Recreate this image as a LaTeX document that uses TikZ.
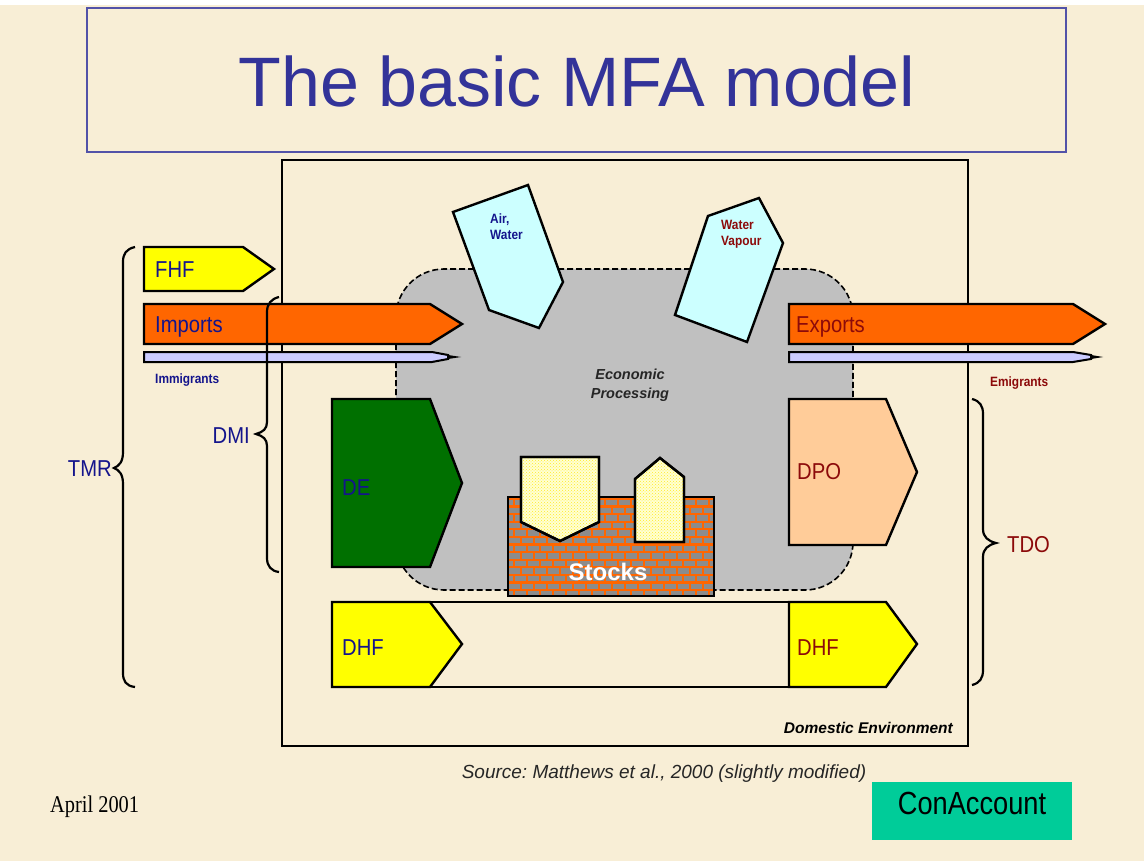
\documentclass[tikz,border=0pt]{standalone}
\usepackage{fontspec}
\setmainfont{Liberation Sans}
\newfontfamily\labfont[FakeStretch=0.88]{Liberation Sans}
\newfontfamily\conacfont[FakeStretch=0.85]{Liberation Sans}
\newfontfamily\datefont[FakeStretch=0.85]{Liberation Serif}
\usetikzlibrary{patterns}
\frenchspacing
\definecolor{bgcream}{RGB}{248,238,214}
\definecolor{titleblue}{RGB}{51,51,153}
\definecolor{navy}{RGB}{20,20,140}
\definecolor{dred}{RGB}{140,10,10}
\definecolor{fyellow}{RGB}{255,255,0}
\definecolor{forange}{RGB}{255,102,0}
\definecolor{fgray}{RGB}{192,192,192}
\definecolor{fcyan}{RGB}{204,255,255}
\definecolor{flav}{RGB}{204,204,255}
\definecolor{fgreen}{RGB}{0,112,0}
\definecolor{fpeach}{RGB}{255,204,153}
\definecolor{fpale}{RGB}{255,255,210}
\definecolor{fdots}{RGB}{255,235,40}
\definecolor{brickgray}{RGB}{140,140,140}
\definecolor{caccount}{RGB}{0,204,153}
\tikzset{
  shapeline/.style={draw=black, line width=2.4pt, line join=miter},
  biglab/.style={inner sep=0pt, font=\labfont\fontsize{23}{23}\selectfont},
  smalllab/.style={inner sep=0pt, font=\labfont\bfseries\fontsize{13.5}{16}\selectfont},
  bracestyle/.style={draw=black, line width=2.2pt},
}
\begin{document}
\begin{tikzpicture}[x=1pt,y=-1pt]
\useasboundingbox (0,0) rectangle (1144,861);
\fill[bgcream] (0,0) rectangle (1144,861);
\fill[white] (0,0) rectangle (1144,5);
% title
\draw[titleblue!85!white, line width=1.5pt] (87,8) rectangle (1066,152);
\node[inner sep=0pt, text=titleblue, font=\fontsize{70}{70}\selectfont, anchor=base] (title) at (577,107) {The basic MFA model};
% domestic environment box
\draw[black, line width=2pt] (282,160) rectangle (968,746);
\node[inner sep=0pt, anchor=base east, font=\bfseries\itshape\fontsize{15.5}{16}\selectfont] (domenv) at (953,733) {Domestic Environment};
% economic processing region
\draw[fill=fgray, draw=black, line width=1.6pt, dash pattern=on 6pt off 3pt, rounded corners=48pt] (396,269) rectangle (853,590);
\node[inner sep=0pt, align=center, font=\bfseries\itshape\fontsize{14.5}{19}\selectfont, text=black!85] (econ) at (630,385) {Economic\\Processing};
% air water polygon
\draw[shapeline, fill=fcyan] (453,212) -- (528,185) -- (563,282) -- (539,328) -- (489,310) -- cycle;
\node[smalllab, text=navy, align=left, anchor=north west] (airwater) at (490,214) {Air,\\Water};
% water vapour polygon
\draw[shapeline, fill=fcyan] (708,216) -- (759,198) -- (783,243) -- (747,342) -- (675,315) -- cycle;
\node[smalllab, text=dred, align=left, anchor=north west] (vapour) at (721,220) {Water\\Vapour};
% FHF
\draw[shapeline, fill=fyellow] (144,247) -- (243,247) -- (274,269) -- (243,291) -- (144,291) -- cycle;
\node[biglab, text=navy, anchor=base west] (fhf) at (155,278) {FHF};
% imports
\draw[shapeline, fill=forange] (144,304) -- (430,304) -- (462,324) -- (430,344) -- (144,344) -- cycle;
\node[biglab, text=navy, anchor=base west] (imports) at (155,332) {Imports};
% immigrants pencil
\draw[black, line width=2pt, fill=flav] (144,352) -- (432,352) -- (448,355) -- (448,359) -- (432,362) -- (144,362) -- cycle;
\fill[black] (448,355) -- (461,357) -- (448,359) -- cycle;
\node[smalllab, text=navy, anchor=base west] (immig) at (155,383) {Immigrants};
% exports
\draw[shapeline, fill=forange] (789,304) -- (1073,304) -- (1105,324) -- (1073,344) -- (789,344) -- cycle;
\node[biglab, text=dred, anchor=base west] (exports) at (796,332) {Exports};
% emigrants pencil
\draw[black, line width=2pt, fill=flav] (789,352) -- (1073,352) -- (1091,355) -- (1091,359) -- (1073,362) -- (789,362) -- cycle;
\fill[black] (1091,355) -- (1103,357) -- (1091,359) -- cycle;
\node[smalllab, text=dred, anchor=base west] (emig) at (990,386) {Emigrants};
% DE
\draw[shapeline, fill=fgreen] (332,399) -- (430,399) -- (462,483) -- (430,567) -- (332,567) -- cycle;
\node[biglab, text=navy, anchor=base west] (de) at (342,495) {DE};
% DPO
\draw[shapeline, fill=fpeach] (789,399) -- (886,399) -- (917,472) -- (886,545) -- (789,545) -- cycle;
\node[biglab, text=dred, anchor=base west] (dpo) at (797,479) {DPO};
% stocks
\begin{scope}
\clip (508,497) rectangle (714,596);
\fill[forange] (508,497) rectangle (714,596);
\foreach \r in {0,...,12} {
  \pgfmathsetmacro\off{mod(\r,2)*6.5}
  \foreach \c in {0,...,16} {
    \fill[brickgray] (502+\off+\c*13, 500+\r*7.6) rectangle ++(11,5.4);
  }
}
\end{scope}
\draw[black, line width=2.2pt] (508,497) rectangle (714,596);
\node[inner sep=0pt, text=white, font=\bfseries\fontsize{24}{24}\selectfont] (stocks) at (608,572) {Stocks};
\draw[shapeline, fill=fpale] (521,457) -- (599,457) -- (599,522) -- (560,541) -- (521,522) -- cycle;
\fill[pattern=crosshatch dots, pattern color=fdots] (521,457) -- (599,457) -- (599,522) -- (560,541) -- (521,522) -- cycle;
\draw[shapeline] (521,457) -- (599,457) -- (599,522) -- (560,541) -- (521,522) -- cycle;
\draw[shapeline, fill=fpale] (635,479) -- (660,458) -- (684,477) -- (684,542) -- (635,542) -- cycle;
\fill[pattern=crosshatch dots, pattern color=fdots] (635,479) -- (660,458) -- (684,477) -- (684,542) -- (635,542) -- cycle;
\draw[shapeline] (635,479) -- (660,458) -- (684,477) -- (684,542) -- (635,542) -- cycle;
% DHF band
\draw[black, line width=2.2pt] (332,602) rectangle (789,687);
\draw[shapeline, fill=fyellow] (332,602) -- (430,602) -- (462,644) -- (430,687) -- (332,687) -- cycle;
\node[biglab, text=navy, anchor=base west] (dhfl) at (342,655) {DHF};
\draw[shapeline, fill=fyellow] (789,602) -- (886,602) -- (917,644) -- (886,687) -- (789,687) -- cycle;
\node[biglab, text=dred, anchor=base west] (dhfr) at (797,655) {DHF};
% braces
\draw[bracestyle] (135,247) .. controls (126,249) and (123,254) .. (123,262) -- (123,452) .. controls (123,462) and (119,466) .. (114,468) .. controls (119,470) and (123,474) .. (123,484) -- (123,673) .. controls (123,681) and (126,686) .. (135,687);
\node[biglab, text=navy, anchor=base east] (tmr) at (112,476) {TMR};
\draw[bracestyle] (279,297) .. controls (271,299) and (267,304) .. (267,312) -- (267,422) .. controls (267,429) and (263,432) .. (256,434) .. controls (263,436) and (267,439) .. (267,446) -- (267,558) .. controls (267,566) and (271,571) .. (279,572);
\node[biglab, text=navy, anchor=base east] (dmi) at (250,443) {DMI};
\draw[bracestyle] (972,399) .. controls (980,401) and (983,406) .. (983,414) -- (983,529) .. controls (983,537) and (988,541) .. (996,543) .. controls (988,545) and (983,549) .. (983,557) -- (983,670) .. controls (983,678) and (980,683) .. (972,685);
\node[biglab, text=dred, anchor=base west] (tdo) at (1007,552) {TDO};
% footer
\node[inner sep=0pt, anchor=base, font=\itshape\fontsize{19}{19}\selectfont, text=black!85] (source) at (664,778) {Source: Matthews et al., 2000 (slightly modified)};
\node[inner sep=0pt, anchor=base west, font=\datefont\fontsize{24}{24}\selectfont] (date) at (50,812) {April 2001};
\fill[caccount] (872,782) rectangle (1072,840);
\node[inner sep=0pt, font=\conacfont\fontsize{32}{32}\selectfont] (conacc) at (972,803) {ConAccount};
\end{tikzpicture}
\end{document}
